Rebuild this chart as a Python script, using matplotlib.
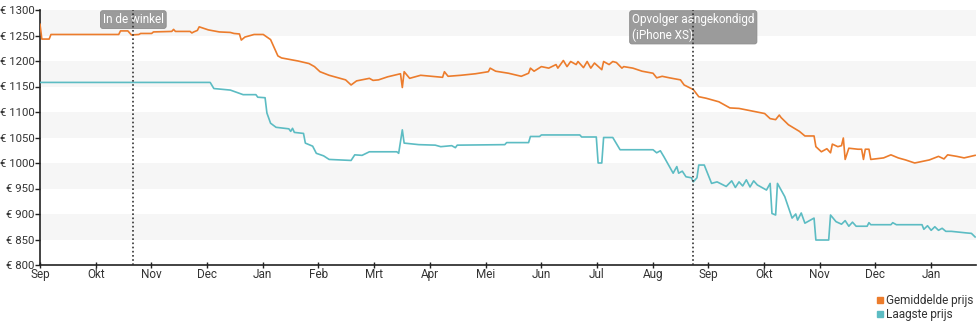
import matplotlib
matplotlib.use("Agg")
import matplotlib.pyplot as plt
from matplotlib.lines import Line2D
import pandas as pd
import numpy as np

plt.rcParams['font.family'] = ['Roboto', 'DejaVu Sans']

# gemiddelde prijs (orange)
avg_dates = ["2017-09-01", "2017-09-02", "2017-09-06", "2017-09-07", "2017-10-14", "2017-10-15",
             "2017-10-19", "2017-10-21", "2017-10-25", "2017-10-26", "2017-11-01", "2017-11-02",
             "2017-11-12", "2017-11-13", "2017-11-14", "2017-11-22", "2017-11-23", "2017-11-24",
             "2017-11-26", "2017-11-27", "2017-12-02", "2017-12-08", "2017-12-14", "2017-12-16",
             "2017-12-19", "2017-12-20", "2017-12-22", "2017-12-27", "2018-01-01", "2018-01-05",
             "2018-01-09", "2018-01-11", "2018-01-20", "2018-01-26", "2018-01-29", "2018-02-01",
             "2018-02-06", "2018-02-12", "2018-02-15", "2018-02-18", "2018-02-21", "2018-02-28",
             "2018-03-02", "2018-03-05", "2018-03-10", "2018-03-17", "2018-03-18", "2018-03-19",
             "2018-03-22", "2018-03-28", "2018-04-03", "2018-04-09", "2018-04-10", "2018-04-12",
             "2018-04-19", "2018-04-27", "2018-05-04", "2018-05-05", "2018-05-08", "2018-05-15",
             "2018-05-22", "2018-05-26", "2018-05-27", "2018-05-29", "2018-06-02", "2018-06-06",
             "2018-06-10", "2018-06-11", "2018-06-14", "2018-06-16", "2018-06-18", "2018-06-21",
             "2018-06-22", "2018-06-25", "2018-06-27", "2018-06-29", "2018-07-01", "2018-07-05",
             "2018-07-06", "2018-07-09", "2018-07-11", "2018-07-13", "2018-07-16", "2018-07-17",
             "2018-07-22", "2018-07-27", "2018-08-02", "2018-08-04", "2018-08-07", "2018-08-11",
             "2018-08-17", "2018-08-19", "2018-08-24", "2018-08-27", "2018-08-31", "2018-09-07",
             "2018-09-13", "2018-09-18", "2018-09-25", "2018-10-02", "2018-10-05", "2018-10-08",
             "2018-10-10", "2018-10-11", "2018-10-15", "2018-10-21", "2018-10-24", "2018-10-29",
             "2018-10-30", "2018-11-02", "2018-11-05", "2018-11-07", "2018-11-08", "2018-11-11",
             "2018-11-13", "2018-11-14", "2018-11-15", "2018-11-17", "2018-11-22", "2018-11-24",
             "2018-11-25", "2018-11-26", "2018-11-28", "2018-11-29", "2018-12-06", "2018-12-10",
             "2018-12-14", "2018-12-18", "2018-12-23", "2018-12-31", "2019-01-05", "2019-01-08",
             "2019-01-10", "2019-01-15", "2019-01-19", "2019-01-25"]
avg_prices = [1272, 1243, 1243, 1252, 1252, 1259,
              1259, 1251, 1252, 1254, 1254, 1257,
              1258, 1262, 1258, 1258, 1255, 1257,
              1260, 1267, 1261, 1257, 1256, 1254,
              1253, 1241, 1247, 1252, 1252, 1242,
              1210, 1206, 1200, 1195, 1189, 1179,
              1172, 1166, 1163, 1153, 1161, 1166,
              1162, 1163, 1169, 1175, 1148, 1179,
              1166, 1172, 1170, 1168, 1179, 1170,
              1172, 1175, 1179, 1186, 1180, 1176,
              1170, 1176, 1186, 1180, 1189, 1186,
              1193, 1186, 1201, 1189, 1199, 1193,
              1199, 1187, 1199, 1186, 1196, 1183,
              1199, 1193, 1199, 1197, 1186, 1189,
              1186, 1180, 1176, 1167, 1170, 1167,
              1163, 1153, 1144, 1130, 1127, 1120,
              1108, 1107, 1102, 1097, 1087, 1085,
              1094, 1089, 1075, 1062, 1053, 1053,
              1032, 1022, 1028, 1020, 1037, 1032,
              1034, 1049, 1007, 1029, 1027, 1027,
              1007, 1027, 1027, 1007, 1010, 1016,
              1010, 1006, 1000, 1006, 1013, 1008,
              1016, 1013, 1010, 1015]

# laagste prijs (cyan)
low_dates = ["2017-09-01", "2017-12-03", "2017-12-05", "2017-12-14", "2017-12-21", "2017-12-28",
             "2017-12-29", "2018-01-02", "2018-01-03", "2018-01-05", "2018-01-08", "2018-01-15",
             "2018-01-16", "2018-01-17", "2018-01-18", "2018-01-23", "2018-01-24", "2018-01-28",
             "2018-01-30", "2018-02-03", "2018-02-06", "2018-02-18", "2018-02-20", "2018-02-24",
             "2018-02-28", "2018-03-15", "2018-03-16", "2018-03-18", "2018-03-19", "2018-03-27",
             "2018-04-05", "2018-04-08", "2018-04-14", "2018-04-16", "2018-04-17", "2018-05-13",
             "2018-05-14", "2018-05-26", "2018-05-27", "2018-06-01", "2018-06-02", "2018-06-23",
             "2018-06-24", "2018-07-02", "2018-07-03", "2018-07-05", "2018-07-06", "2018-07-11",
             "2018-07-15", "2018-08-02", "2018-08-04", "2018-08-06", "2018-08-08", "2018-08-13",
             "2018-08-15", "2018-08-16", "2018-08-18", "2018-08-20", "2018-08-23", "2018-08-24",
             "2018-08-26", "2018-08-27", "2018-08-30", "2018-09-03", "2018-09-06", "2018-09-11",
             "2018-09-14", "2018-09-16", "2018-09-18", "2018-09-20", "2018-09-22", "2018-09-24",
             "2018-09-26", "2018-09-28", "2018-10-03", "2018-10-05", "2018-10-06", "2018-10-08",
             "2018-10-09", "2018-10-13", "2018-10-17", "2018-10-19", "2018-10-20", "2018-10-22",
             "2018-10-24", "2018-10-27", "2018-10-29", "2018-10-30", "2018-11-06", "2018-11-07",
             "2018-11-10", "2018-11-13", "2018-11-15", "2018-11-17", "2018-11-19", "2018-11-21",
             "2018-11-27", "2018-11-28", "2018-11-29", "2018-12-10", "2018-12-11", "2018-12-13",
             "2018-12-27", "2018-12-28", "2018-12-30", "2019-01-01", "2019-01-03", "2019-01-05",
             "2019-01-07", "2019-01-09", "2019-01-12", "2019-01-20", "2019-01-23", "2019-01-25"]
low_prices = [1158, 1158, 1146, 1143, 1134, 1134,
              1129, 1128, 1098, 1078, 1070, 1067,
              1062, 1068, 1060, 1058, 1039, 1033,
              1019, 1014, 1007, 1005, 1016, 1015,
              1022, 1022, 1019, 1065, 1039, 1036,
              1035, 1032, 1034, 1030, 1035, 1036,
              1040, 1040, 1052, 1052, 1055, 1055,
              1051, 1051, 1000, 1000, 1050, 1050,
              1026, 1026, 1020, 1024, 1012, 980,
              993, 980, 984, 973, 971, 963,
              971, 996, 996, 960, 963, 954,
              965, 952, 963, 955, 967, 953,
              965, 957, 947, 960, 901, 898,
              960, 934, 892, 900, 888, 902,
              882, 888, 892, 849, 849, 898,
              885, 880, 887, 876, 884, 876,
              876, 883, 879, 879, 883, 879,
              879, 870, 877, 868, 875, 868,
              872, 866, 866, 863, 862, 855]

month_labels = ["Sep", "Okt", "Nov", "Dec", "Jan", "Feb", "Mrt", "Apr", "Mei",
                "Jun", "Jul", "Aug", "Sep", "Okt", "Nov", "Dec", "Jan"]
y_ticks = list(range(800, 1301, 50))

events = [("2017-10-22", "In de winkel"),
          ("2018-08-24", "Opvolger aangekondigd\n(iPhone XS)")]

orange = '#ec7c2c'
cyan = '#5cbcc3'

fig = plt.figure(figsize=(9.8, 3.25), dpi=100)
ax = fig.add_axes([40/980, 1-265/325, 936/980, 255/325])

# alternating background bands
for lo in range(850, 1300, 100):
    ax.axhspan(lo, lo + 50, color='#f6f6f6', lw=0, zorder=0)

ax.plot(pd.to_datetime(avg_dates), avg_prices, color=orange, lw=1.2, zorder=3)
ax.plot(pd.to_datetime(low_dates), low_prices, color=cyan, lw=1.2, zorder=3)

start = pd.Timestamp("2017-09-01")
end = pd.Timestamp("2019-01-25 12:00")
ax.set_xlim(start, end)
ax.set_ylim(800, 1300)

ticks = [start + pd.Timedelta(days=365.25/12*k) for k in range(len(month_labels))]
ax.set_xticks(ticks)
ax.set_xticklabels(month_labels)
ax.set_yticks(y_ticks)
ax.set_yticklabels(["€ %d" % v for v in y_ticks])

for s in ['top', 'right']:
    ax.spines[s].set_visible(False)
for s in ['left', 'bottom']:
    ax.spines[s].set_color('#222222')
    ax.spines[s].set_linewidth(1.2)
ax.tick_params(axis='y', length=3.5, width=1, colors='#222222', labelsize=8.2, pad=0.5)
ax.tick_params(axis='x', direction='inout', length=5, width=1, colors='#222222', labelsize=8.5, pad=0)
for lbl in ax.get_xticklabels() + ax.get_yticklabels():
    lbl.set_color('#333333')

for d, txt in events:
    x = pd.Timestamp(d)
    ax.axvline(x, color='#333333', lw=1.2, ls=(0, (1, 1.5)), zorder=5)
    ax.text(x, 1294, txt, ha='center', va='top', multialignment='left', color='white',
            fontsize=8.5, zorder=4, linespacing=1.2,
            bbox=dict(boxstyle='round,pad=0.2,rounding_size=0.2', fc='#9b9b9b', ec='#8a8a8a', lw=0.6))

handles = [Line2D([], [], color=orange, marker='s', ls='', markersize=5),
           Line2D([], [], color=cyan, marker='s', ls='', markersize=5)]
fig.legend(handles, ["Gemiddelde prijs", "Laagste prijs"], loc='lower right',
           bbox_to_anchor=(1.0, -0.01), frameon=False, fontsize=8.5, handletextpad=0.1,
           handlelength=0.8, labelspacing=0.1, borderaxespad=0.2, labelcolor='#333333')

fig.savefig('out.png', dpi=100)
